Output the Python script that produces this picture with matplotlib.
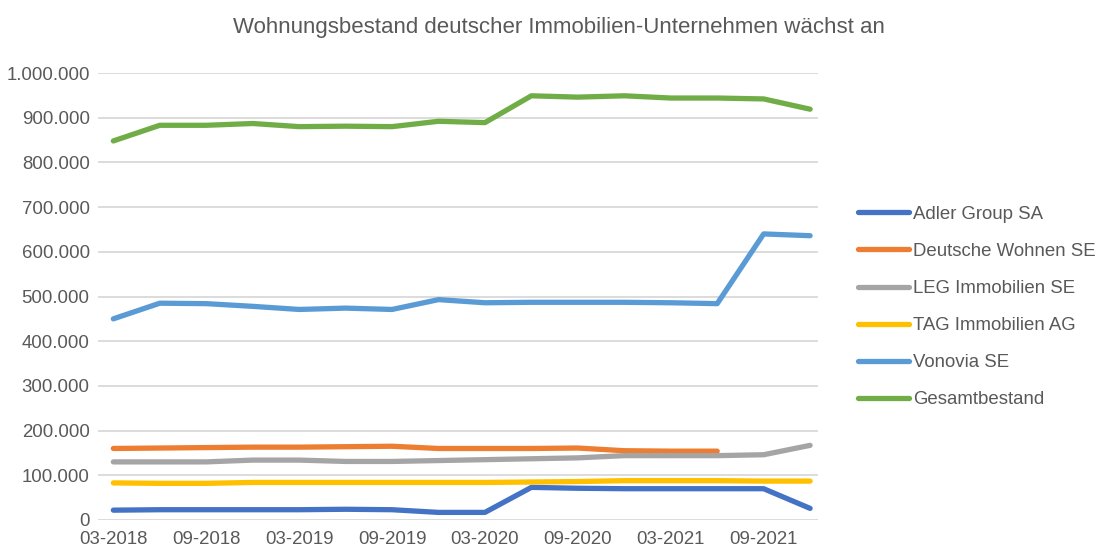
import matplotlib
matplotlib.use("Agg")
import matplotlib.pyplot as plt
from matplotlib.ticker import FuncFormatter, MultipleLocator

quarters = ["03-2018", "06-2018", "09-2018", "12-2018",
            "03-2019", "06-2019", "09-2019", "12-2019",
            "03-2020", "06-2020", "09-2020", "12-2020",
            "03-2021", "06-2021", "09-2021", "12-2021"]

adler = [22000, 23000, 23000, 23000, 23000, 24000, 23000, 17000,
         17000, 73000, 71000, 70000, 70000, 70000, 70000, 26000]
deutsche_wohnen = [160000, 161000, 162000, 163000, 163000, 164000, 165000, 160000,
                   160000, 160000, 161000, 155000, 154000, 154000]
leg = [130000, 130000, 130000, 134000, 134000, 131000, 131000, 133000,
       135000, 137000, 139000, 144000, 144000, 144000, 146000, 167000]
tag = [83000, 82000, 82000, 84000, 84000, 84000, 84000, 84000,
       84000, 85000, 86000, 88000, 88000, 88000, 87000, 87000]
vonovia = [450000, 485000, 484000, 478000, 471000, 474000, 471000, 493000,
           486000, 487000, 487000, 487000, 486000, 484000, 640000, 636000]
gesamt = [848000, 883000, 883000, 887000, 880000, 881000, 880000, 892000,
          889000, 949000, 946000, 949000, 944000, 944000, 942000, 919000]

series = [
    ("Adler Group SA", adler, "#4472C4"),
    ("Deutsche Wohnen SE", deutsche_wohnen, "#ED7D31"),
    ("LEG Immobilien SE", leg, "#A5A5A5"),
    ("TAG Immobilien AG", tag, "#FFC000"),
    ("Vonovia SE", vonovia, "#5B9BD5"),
    ("Gesamtbestand", gesamt, "#70AD47"),
]

TXT = "#595959"
plt.rcParams["font.family"] = ["Liberation Sans", "DejaVu Sans"]

fig = plt.figure(figsize=(11, 5.5), dpi=100)
ax = fig.add_axes([98 / 1100, 30 / 550, 720 / 1100, 447 / 550])

x = list(range(len(quarters)))
for name, vals, col in series:
    ax.plot(x[:len(vals)], vals, color=col, lw=3.8, label=name,
            solid_capstyle="round", solid_joinstyle="round", clip_on=False, zorder=3)

ax.set_ylim(0, 1000000)
ax.set_xlim(-0.33, 15.17)
ax.yaxis.set_major_locator(MultipleLocator(100000))
ax.yaxis.set_major_formatter(FuncFormatter(lambda v, p: f"{int(v):,}".replace(",", ".")))
ax.set_xticks(x[::2])
ax.set_xticklabels(quarters[::2])
ax.grid(axis="y", color="#D9D9D9", lw=1.3, zorder=0)
ax.set_axisbelow(True)
for s in ax.spines.values():
    s.set_visible(False)
ax.tick_params(length=0, labelsize=13.4, colors=TXT)
ax.tick_params(axis="x", pad=8)
ax.tick_params(axis="y", pad=6)

fig.text(559 / 1100, 1 - 28 / 550, "Wohnungsbestand deutscher Immobilien-Unternehmen wächst an",
         ha="center", va="center", fontsize=16, color=TXT)

fig.legend(loc="upper left", bbox_to_anchor=(841 / 1100, 1 - 189 / 550), frameon=False,
           fontsize=13.4, labelcolor=TXT, handlelength=2.75, handletextpad=0.2,
           labelspacing=1.08)

fig.savefig("out.png", dpi=100)
